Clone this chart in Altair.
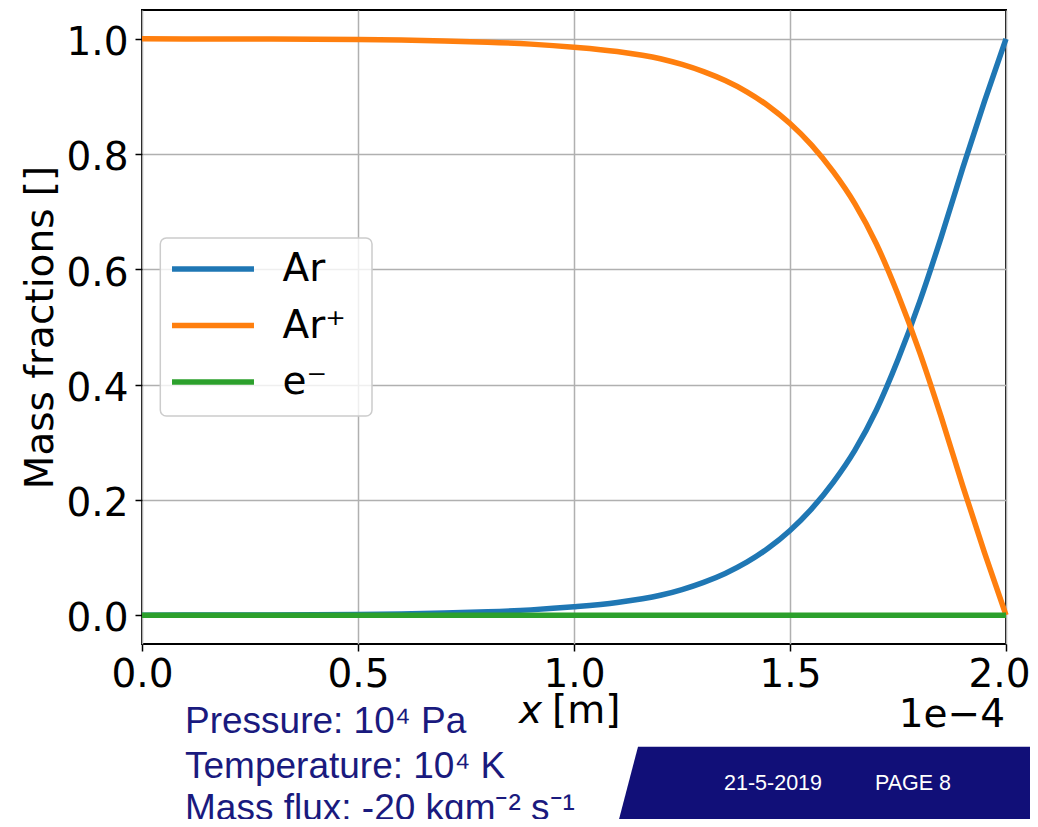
import altair as alt
import pandas as pd

# ---- data ----
x_e4 = [0.0, 0.1, 0.2, 0.3, 0.4, 0.5, 0.6, 0.7, 0.8, 0.9, 1.0, 1.1, 1.2, 1.25,
        1.3, 1.35, 1.4, 1.45, 1.5, 1.55, 1.6, 1.65, 1.7, 1.75, 1.8, 1.85, 1.9,
        1.95, 2.0]
ar = [0.0000, 0.0001, 0.0003, 0.0005, 0.0008, 0.0013, 0.0022, 0.0036, 0.0058,
      0.0092, 0.0145, 0.0220, 0.0345, 0.0445, 0.0570, 0.0725, 0.0920, 0.1165,
      0.1470, 0.1845, 0.2305, 0.2860, 0.3560, 0.4435, 0.5435, 0.6560, 0.7760,
      0.8910, 1.0000]
ar_plus = [1.0000, 0.9999, 0.9997, 0.9995, 0.9992, 0.9987, 0.9978, 0.9964,
           0.9942, 0.9908, 0.9855, 0.9780, 0.9655, 0.9555, 0.9430, 0.9275,
           0.9080, 0.8835, 0.8530, 0.8155, 0.7695, 0.7140, 0.6440, 0.5565,
           0.4565, 0.3440, 0.2240, 0.1090, 0.0000]
e_minus = [0.0] * 29

species = ["Ar", "Ar\u207a", "e\u207b"]
colors = ["#1f77b4", "#ff7f0e", "#2ca02c"]
x_ticks = [0.0, 0.5e-4, 1.0e-4, 1.5e-4, 2.0e-4]
y_ticks = [0.0, 0.2, 0.4, 0.6, 0.8, 1.0]
y_title = "Mass fractions []"
x_title_var = "x"
x_title_unit = "[m]"
offset_text = "1e\u22124"
info_lines = ["Pressure: 10\u2074 Pa", "Temperature: 10\u2074 K",
              "Mass flux: -20 kgm\u207b\u00b2 s\u207b\u00b9"]
footer_date = "21-5-2019"
footer_page = "PAGE 8"

rows = []
for name, vals in zip(species, [ar, ar_plus, e_minus]):
    for xv, yv in zip(x_e4, vals):
        rows.append({"x": xv * 1e-4, "y": yv, "species": name})
df = pd.DataFrame(rows)

one = pd.DataFrame({"k": [0]})
MPL = "DejaVu Sans"
SANS = "Liberation Sans"
NAVY_TXT = "#1a1a7e"
NAVY_BAN = "#110f78"

x_enc = alt.X("x:Q", scale=alt.Scale(domain=[0, 2e-4], nice=False, zero=False),
              axis=alt.Axis(values=x_ticks, title=None, labelPadding=4,
                            labelFlush=False,
                            labelOffset={"condition": {"test": "datum.value > 0.00019",
                                                       "value": -7},
                                         "value": 0},
                            labelExpr="format(datum.value*10000, '.1f')"))
y_enc = alt.Y("y:Q", scale=alt.Scale(domain=[-0.05, 1.05], nice=False, zero=False),
              axis=alt.Axis(values=y_ticks, format=".1f", title=y_title,
                            labelFlush=False,
                            labelPadding=7, labelOffset=3.7, titlePadding=5))
color_enc = alt.Color(
    "species:N",
    scale=alt.Scale(domain=species, range=colors),
    legend=alt.Legend(title=None, orient="none", legendX=30, legendY=239.5,
                      padding=0, labelFont=MPL, labelFontSize=39,
                      labelColor="black", symbolType="M -4 0 L 4 0",
                      symbolSize=420, symbolStrokeWidth=5.5, symbolOffset=21.5,
                      labelOffset=50, rowPadding=16.5),
)

legend_box = alt.Chart(one).mark_rect(
    cornerRadius=6, fill="white", fillOpacity=0.8, stroke="#cccccc", strokeWidth=1.5
).encode(x=alt.value(18.3), x2=alt.value(230), y=alt.value(228), y2=alt.value(406))

lines = []
for name in species:
    lines.append(
        alt.Chart(df).transform_filter(alt.datum.species == name)
        .mark_line(strokeWidth=5.5, interpolate="monotone")
        .encode(x=x_enc, y=y_enc, color=color_enc)
    )


def txt(s, x, y, font, size, color, align="left", style="normal"):
    return alt.Chart(one).mark_text(
        text=s, font=font, fontSize=size, color=color, align=align,
        baseline="alphabetic", fontStyle=style
    ).encode(x=alt.value(x), y=alt.value(y))


banner = alt.Chart(one).mark_point(
    shape="M -0.768 -0.1732 L 0.86 -0.1732 L 0.86 0.18 L -0.8604 0.18 Z",
    filled=True, size=250000, color=NAVY_BAN, opacity=1, strokeWidth=0
).encode(x=alt.value(688), y=alt.value(780))

annots = [
    txt(x_title_var, 377, 713, MPL, 39, "black", style="italic"),
    txt(x_title_unit, 410, 713, MPL, 39, "black"),
    txt(offset_text, 863, 717, MPL, 39, "black", align="right"),
    txt(info_lines[0], 43, 723, SANS, 37, NAVY_TXT),
    txt(info_lines[1], 43, 768, SANS, 37, NAVY_TXT),
    txt(info_lines[2], 43, 810, SANS, 37, NAVY_TXT),
    banner,
    txt(footer_date, 582, 780, SANS, 21.5, "white"),
    txt(footer_page, 733, 780, SANS, 21.5, "white"),
]

chart = alt.layer(legend_box, *lines, *annots).properties(
    width=864, height=634,
    padding={"left": 134, "top": 2, "right": 24, "bottom": 175},
    autosize="none",
).configure_view(stroke="black", strokeWidth=2).configure_axis(
    labelFont=MPL, labelFontSize=39, labelColor="black",
    titleFont=MPL, titleFontSize=39, titleColor="black", titleFontWeight="normal",
    tickColor="black", tickSize=7, tickWidth=1.5,
    gridColor="#b0b0b0", gridWidth=1.5, domain=False,
)

chart.save("out.html", embed_options={"renderer": "svg", "actions": False})
